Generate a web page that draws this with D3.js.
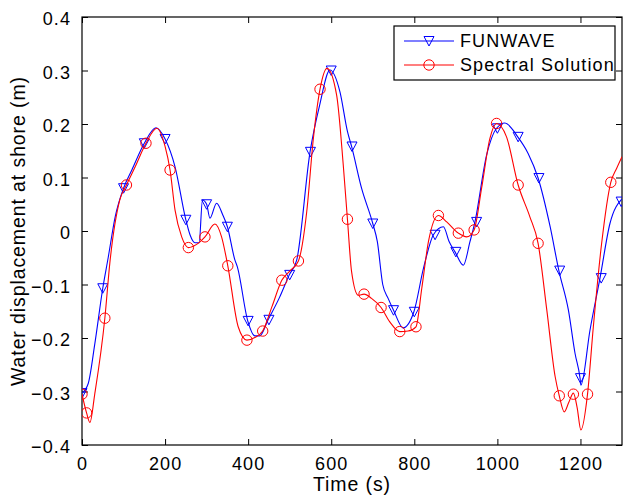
<!DOCTYPE html>
<html>
<head>
<meta charset="utf-8">
<script src="https://cdn.jsdelivr.net/npm/d3@7"></script>
<style>
  body { margin: 0; background: #fff; }
  text { font-family: "Liberation Sans", Arial, sans-serif; font-size: 18px; letter-spacing: 1.1px; fill: #000; }
  text.title { font-size: 19.5px; letter-spacing: 0.9px; }
</style>
</head>
<body>
<svg id="chart" width="623" height="496"></svg>
<script>
// FUNWAVE trace (time s, displacement m)
const funwaveTime = [0, 15, 31, 50, 63, 80, 100, 120, 150, 178, 200, 224, 250, 260, 272, 282, 290, 300, 308, 324, 339, 350,
  368, 374, 399, 416, 428, 448, 475, 499, 517, 549, 572, 597, 621, 639, 649, 673, 700, 711, 724, 737, 750, 773, 799,
  822, 846, 870, 884, 898, 918, 934, 946, 974, 998, 1018, 1049, 1074, 1098, 1127, 1148, 1171, 1187, 1199, 1201,
  1223, 1247, 1271, 1300];
const funwaveEta = [-0.303, -0.285, -0.21, -0.107, -0.05, 0.027, 0.080, 0.114, 0.164, 0.193, 0.172, 0.12, 0.021, -0.007,
  -0.022, -0.022, 0.058, 0.05, 0.024, 0.052, 0.03, 0.008, -0.054, -0.067, -0.168, -0.196, -0.196, -0.166, -0.125,
  -0.082, -0.054, 0.148, 0.235, 0.301, 0.26, 0.186, 0.158, 0.08, 0.014, -0.02, -0.1, -0.126, -0.148, -0.181, -0.151,
  -0.07, -0.007, 0.008, -0.02, -0.039, -0.064, -0.02, 0.017, 0.142, 0.192, 0.202, 0.176, 0.145, 0.099, 0.008,
  -0.074, -0.148, -0.229, -0.275, -0.288, -0.185, -0.088, 0.014, 0.06];
const funwaveMarkTime = [0, 50, 100, 150, 200, 250, 300, 350, 400, 450, 500, 550, 600, 650, 700, 750, 800, 850, 900,
  950, 1000, 1050, 1100, 1150, 1200, 1250, 1298];
const funwaveMarkEta = [-0.303, -0.107, 0.080, 0.164, 0.172, 0.021, 0.05, 0.008, -0.168, -0.166, -0.082, 0.148, 0.300,
  0.158, 0.014, -0.148, -0.151, -0.007, -0.039, 0.017, 0.192, 0.176, 0.099, -0.074, -0.275, -0.088, 0.055];

// Spectral solution trace
const spectralTime = [0, 11, 19, 31, 55, 67, 91, 107, 128, 154, 180, 200, 212, 224, 240, 256, 276, 296, 320, 336, 351,
  376, 397, 416, 435, 458, 481, 500, 521, 541, 557, 573, 590, 613, 629, 639, 649, 665, 679, 697, 720, 741, 765, 785,
  804, 818, 834, 858, 878, 906, 926, 944, 962, 982, 998, 1022, 1050, 1078, 1098, 1119, 1139, 1149, 1161, 1172, 1183,
  1192, 1201, 1217, 1231, 1251, 1273, 1287, 1300];
const spectralEta = [-0.305, -0.34, -0.358, -0.303, -0.163, -0.06, 0.058, 0.086, 0.12, 0.164, 0.192, 0.158, 0.114,
  0.039, -0.011, -0.031, -0.025, -0.011, 0.013, -0.011, -0.065, -0.179, -0.204, -0.199, -0.187, -0.14, -0.092,
  -0.075, -0.056, 0.036, 0.173, 0.265, 0.304, 0.254, 0.123, 0.022, -0.076, -0.12, -0.118, -0.126, -0.143, -0.17,
  -0.188, -0.187, -0.179, -0.107, -0.02, 0.029, 0.017, -0.004, -0.011, 0.002, 0.08, 0.173, 0.201, 0.176, 0.086,
  0.027, -0.023, -0.148, -0.272, -0.308, -0.338, -0.32, -0.303, -0.33, -0.372, -0.305, -0.179, -0.023, 0.091,
  0.117, 0.139];
const spectralMarkTime = [0, 11, 55, 107, 154, 212, 256, 296, 351, 397, 435, 481, 521, 573, 639, 679, 720, 765, 804,
  858, 906, 944, 998, 1050, 1098, 1149, 1183, 1217, 1273];
const spectralMarkEta = [-0.305, -0.34, -0.163, 0.086, 0.164, 0.114, -0.031, -0.011, -0.065, -0.204, -0.187, -0.092,
  -0.056, 0.265, 0.022, -0.118, -0.143, -0.188, -0.179, 0.029, -0.004, 0.002, 0.201, 0.086, -0.023, -0.308, -0.305,
  -0.305, 0.091];

const xTicks = [0, 200, 400, 600, 800, 1000, 1200];
const yTicks = [-0.4, -0.3, -0.2, -0.1, 0, 0.1, 0.2, 0.3, 0.4];

const margin = {top: 17, right: 1, bottom: 51, left: 82};
const W = 623, H = 496;
const w = W - margin.left - margin.right, h = H - margin.top - margin.bottom;

const svg = d3.select('#chart');
const g = svg.append('g').attr('transform', `translate(${margin.left},${margin.top})`);

const x = d3.scaleLinear().domain([0, 1300]).range([0, w]);
const y = d3.scaleLinear().domain([-0.4, 0.4]).range([h, 0]);

g.append('clipPath').attr('id', 'plot-clip')
  .append('rect').attr('width', w).attr('height', h);

// MATLAB style box with inward ticks on all sides
const fmt = v => v === 0 ? '0' : d3.format('.1f')(v).replace('-', '\u2212');
const tickLen = 6;
g.append('g').attr('transform', `translate(0,${h})`)
  .call(d3.axisBottom(x).tickValues(xTicks).tickSizeInner(-tickLen).tickSizeOuter(0).tickPadding(12).tickFormat(d3.format('d')))
  .call(a => a.selectAll('text').attr('font-size', null).attr('font-family', null));
g.append('g')
  .call(d3.axisTop(x).tickValues(xTicks).tickSizeInner(-tickLen).tickSizeOuter(0).tickFormat(''));
g.append('g')
  .call(d3.axisLeft(y).tickValues(yTicks).tickSizeInner(-tickLen).tickSizeOuter(0).tickPadding(11).tickFormat(fmt))
  .call(a => a.selectAll('text').attr('font-size', null).attr('font-family', null).attr('dy', '0.42em'));
g.append('g').attr('transform', `translate(${w},0)`)
  .call(d3.axisRight(y).tickValues(yTicks).tickSizeInner(-tickLen).tickSizeOuter(0).tickFormat(''));
g.selectAll('.domain').remove();
g.selectAll('.tick line').attr('stroke', '#000');
g.append('rect').attr('width', w).attr('height', h)
  .attr('fill', 'none').attr('stroke', '#000').attr('stroke-width', 1.2);

const line = d3.line().x(d => x(d[0])).y(d => y(d[1])).curve(d3.curveMonotoneX);
const plot = g.append('g').attr('clip-path', 'url(#plot-clip)');

const tri = 'M-5,-4.5L5,-4.5L0,5Z';
const series = [
  {name: 'FUNWAVE', color: '#0000ff', t: funwaveTime, v: funwaveEta, mt: funwaveMarkTime, mv: funwaveMarkEta, marker: 'tri'},
  {name: 'Spectral Solution', color: '#ff0000', t: spectralTime, v: spectralEta, mt: spectralMarkTime, mv: spectralMarkEta, marker: 'circle'}
];

function drawMarker(sel, s) {
  if (s.marker === 'tri') {
    sel.append('path').attr('d', tri).attr('fill', 'none').attr('stroke', s.color).attr('stroke-width', 1);
  } else {
    sel.append('circle').attr('r', 5.2).attr('fill', 'none').attr('stroke', s.color).attr('stroke-width', 1);
  }
}

series.forEach(s => {
  plot.append('path').datum(d3.zip(s.t, s.v))
    .attr('d', line).attr('fill', 'none').attr('stroke', s.color).attr('stroke-width', 1.1);
  plot.selectAll(null).data(d3.zip(s.mt, s.mv)).enter().append('g')
    .attr('transform', d => `translate(${x(d[0])},${y(d[1])})`)
    .each(function () { drawMarker(d3.select(this), s); });
});

// legend
const lg = svg.append('g').attr('transform', 'translate(394,26)');
lg.append('rect').attr('width', 221).attr('height', 54).attr('fill', '#fff').attr('stroke', '#000').attr('stroke-width', 1.2);
series.forEach((s, i) => {
  const row = lg.append('g').attr('transform', `translate(0,${15 + i * 24})`);
  row.append('line').attr('x1', 10).attr('x2', 60).attr('stroke', s.color).attr('stroke-width', 1.1);
  const m = row.append('g').attr('transform', 'translate(35,0)');
  drawMarker(m, s);
  row.append('text').attr('x', 66).attr('dy', '0.36em').text(s.name);
});

// axis titles
svg.append('text').attr('class', 'title').attr('x', margin.left + w / 2).attr('y', 491).attr('text-anchor', 'middle').text('Time (s)');
svg.append('text').attr('class', 'title').attr('transform', `translate(25,${margin.top + h / 2}) rotate(-90)`)
  .attr('text-anchor', 'middle').text('Water displacement at shore (m)');
</script>
</body>
</html>
